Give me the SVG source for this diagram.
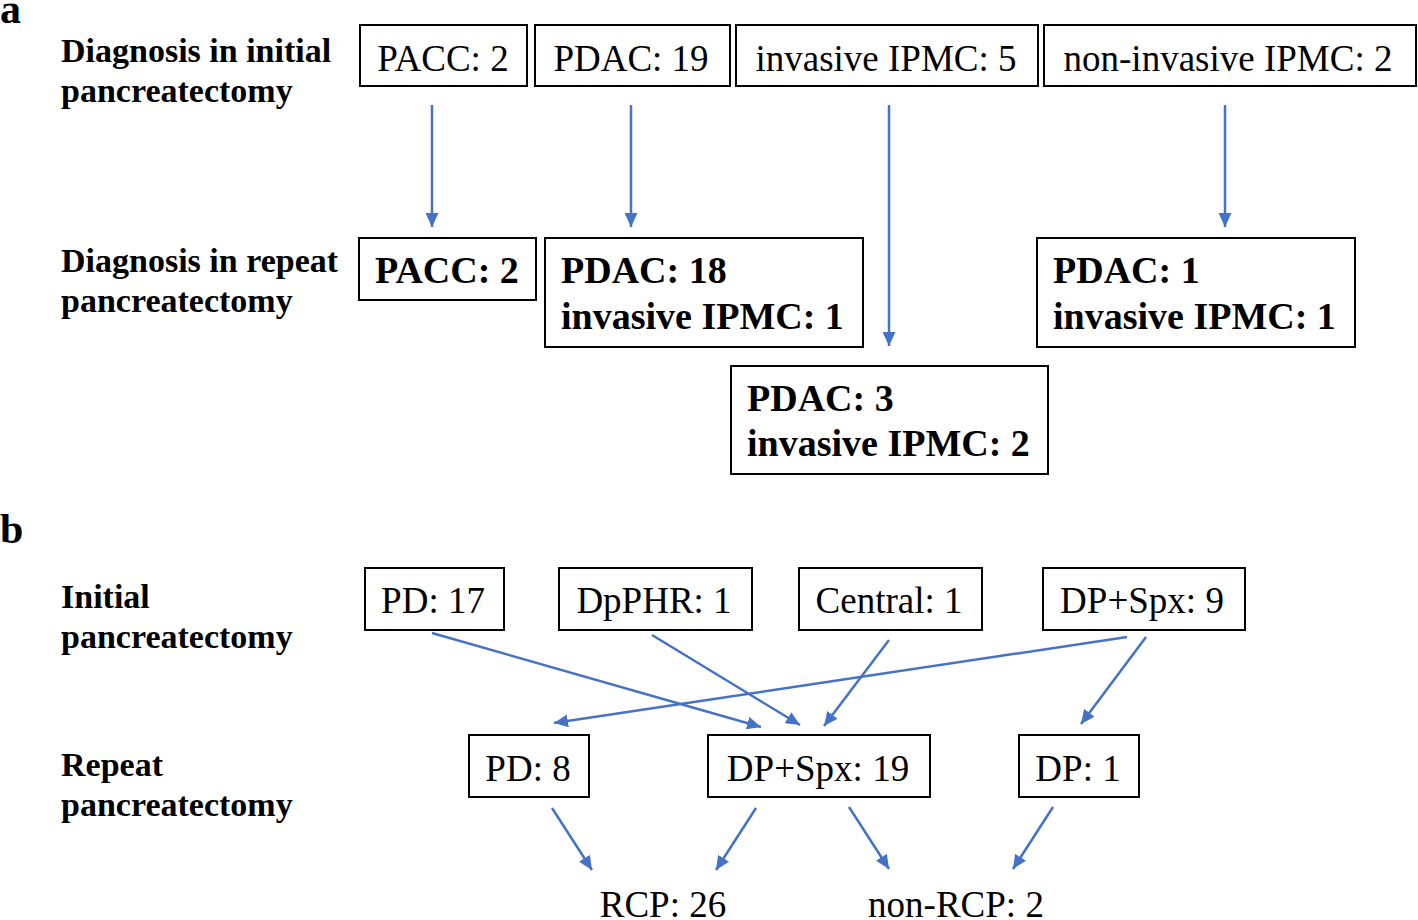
<svg xmlns="http://www.w3.org/2000/svg" width="1418" height="920" viewBox="0 0 1418 920">
<style>
.bg{fill:#fff}
.box{fill:#fff;stroke:#000;stroke-width:2}
.t{font-family:"Liberation Serif","Times New Roman",serif;font-size:37px;fill:#000}
.c{text-anchor:middle}
.b{font-weight:bold;font-size:38px}
.lab{font-family:"Liberation Serif","Times New Roman",serif;font-size:34px;font-weight:bold;fill:#000}
.pan{font-family:"Liberation Serif","Times New Roman",serif;font-size:42px;font-weight:bold;fill:#000}
.arr{stroke:#4472C4;stroke-width:2.5;fill:none;marker-end:url(#ah)}
</style>
<defs>
<marker id="ah" markerUnits="userSpaceOnUse" markerWidth="15" markerHeight="13" refX="14" refY="6.5" orient="auto">
<path d="M0,0 L14,6.5 L0,13 Z" fill="#4472C4"/>
</marker>
</defs>
<rect class="bg" x="0" y="0" width="1418" height="920"/>

<g id="panel-labels">
<text class="pan" x="0" y="23">a</text>
<text class="pan" x="0" y="543">b</text>
</g>

<g id="row-labels">
<text class="lab" x="61" y="62">Diagnosis in initial</text>
<text class="lab" x="61" y="102">pancreatectomy</text>
<text class="lab" x="61" y="272">Diagnosis in repeat</text>
<text class="lab" x="61" y="312">pancreatectomy</text>
<text class="lab" x="61" y="608">Initial</text>
<text class="lab" x="61" y="648">pancreatectomy</text>
<text class="lab" x="61" y="776">Repeat</text>
<text class="lab" x="61" y="816">pancreatectomy</text>
</g>

<g id="a-init-pacc"><rect class="box" x="360" y="25" width="167" height="61"/><text class="t c" x="443" y="71">PACC: 2</text></g>
<g id="a-init-pdac"><rect class="box" x="535" y="25" width="195" height="61"/><text class="t c" x="631" y="71">PDAC: 19</text></g>
<g id="a-init-inv"><rect class="box" x="736" y="25" width="302" height="61"/><text class="t c" x="886" y="71">invasive IPMC: 5</text></g>
<g id="a-init-noninv"><rect class="box" x="1044" y="25" width="372" height="61"/><text class="t c" x="1228" y="71">non-invasive IPMC: 2</text></g>

<g id="a-rep-pacc"><rect class="box" x="359" y="238" width="177" height="62"/><text class="t b" x="375" y="283">PACC: 2</text></g>
<g id="a-rep-pdac"><rect class="box" x="545" y="238" width="318" height="109"/><text class="t b" x="561" y="283">PDAC: 18</text><text class="t b" x="561" y="329">invasive IPMC: 1</text></g>
<g id="a-rep-inv"><rect class="box" x="731" y="366" width="317" height="108"/><text class="t b" x="747" y="411">PDAC: 3</text><text class="t b" x="747" y="456">invasive IPMC: 2</text></g>
<g id="a-rep-noninv"><rect class="box" x="1037" y="238" width="318" height="109"/><text class="t b" x="1053" y="283">PDAC: 1</text><text class="t b" x="1053" y="329">invasive IPMC: 1</text></g>

<g id="b-pd17"><rect class="box" x="365" y="568" width="139" height="62"/><text class="t c" x="433" y="613">PD: 17</text></g>
<g id="b-dpphr"><rect class="box" x="559" y="568" width="193" height="62"/><text class="t c" x="654" y="613">DpPHR: 1</text></g>
<g id="b-central"><rect class="box" x="799" y="568" width="183" height="62"/><text class="t c" x="889" y="613">Central: 1</text></g>
<g id="b-dpspx9"><rect class="box" x="1043" y="568" width="202" height="62"/><text class="t c" x="1142" y="613">DP+Spx: 9</text></g>

<g id="b-pd8"><rect class="box" x="469" y="735" width="120" height="62"/><text class="t c" x="528" y="781">PD: 8</text></g>
<g id="b-dpspx19"><rect class="box" x="708" y="735" width="222" height="62"/><text class="t c" x="818" y="781">DP+Spx: 19</text></g>
<g id="b-dp1"><rect class="box" x="1019" y="735" width="120" height="62"/><text class="t c" x="1078" y="781">DP: 1</text></g>

<g id="b-rcp"><text class="t c" x="663" y="917">RCP: 26</text></g>
<g id="b-nonrcp"><text class="t c" x="956" y="917">non-RCP: 2</text></g>

<g id="connectors">
<line class="arr" x1="432" y1="105" x2="432" y2="227"/>
<line class="arr" x1="631" y1="105" x2="631" y2="227"/>
<line class="arr" x1="889" y1="105" x2="889" y2="346"/>
<line class="arr" x1="1225" y1="105" x2="1225" y2="227"/>

<line class="arr" x1="432" y1="633" x2="761" y2="727"/>
<line class="arr" x1="652" y1="635" x2="800" y2="725"/>
<line class="arr" x1="889" y1="640" x2="824" y2="726"/>
<line class="arr" x1="1127" y1="637" x2="554" y2="723"/>
<line class="arr" x1="1146" y1="637" x2="1081" y2="724"/>

<line class="arr" x1="552" y1="808" x2="592" y2="870"/>
<line class="arr" x1="756" y1="808" x2="716" y2="870"/>
<line class="arr" x1="849" y1="807" x2="889" y2="869"/>
<line class="arr" x1="1053" y1="807" x2="1013" y2="869"/>
</g>
</svg>
